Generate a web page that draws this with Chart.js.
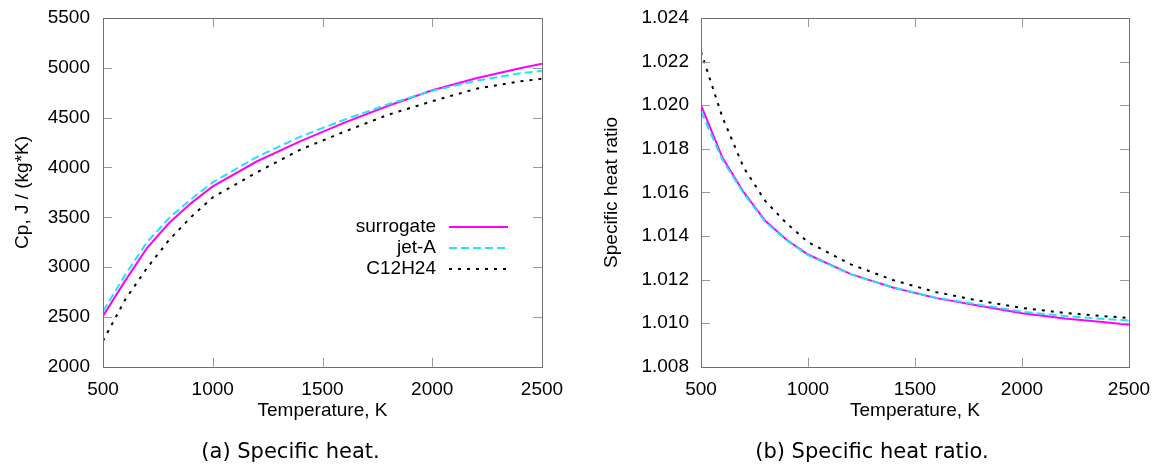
<!DOCTYPE html>
<html><head><meta charset="utf-8">
<script src="https://cdn.jsdelivr.net/npm/chart.js@4.4.1/dist/chart.umd.min.js"></script>
<style>
html,body{margin:0;padding:0;background:#fff;}
#wrap{position:relative;width:1163px;height:467px;overflow:hidden;}
.c{position:absolute;top:0;height:467px;}
</style></head><body>
<div id="wrap">
<div class="c" style="left:0;width:581px"><canvas id="cp" width="581" height="467"></canvas></div>
<div class="c" style="left:581px;width:582px"><canvas id="gam" width="582" height="467"></canvas></div>
</div>
<script>
// ---------- data ----------
const temperatures = [500, 600, 700, 800, 900, 1000, 1200, 1400, 1600, 1800, 2000, 2200, 2400, 2500];
const seriesNames = ['surrogate', 'jet-A', 'C12H24'];

const cpSurrogate = [2510, 2860, 3190, 3440, 3640, 3810, 4060, 4265, 4450, 4620, 4775, 4895, 4995, 5040];
const cpJetA      = [2557, 2920, 3250, 3490, 3680, 3850, 4105, 4310, 4480, 4635, 4770, 4870, 4945, 4970];
const cpC12H24    = [2260, 2670, 2990, 3270, 3500, 3700, 3950, 4180, 4360, 4530, 4665, 4790, 4865, 4890];

const gammaSurrogate = [1.02000, 1.01760, 1.01600, 1.01470, 1.01383, 1.01315, 1.01225, 1.01163, 1.01115, 1.01080, 1.01046, 1.01022, 1.01003, 1.00993];
const gammaJetA      = [1.01972, 1.01750, 1.01594, 1.01465, 1.01380, 1.01312, 1.01224, 1.01163, 1.01117, 1.01085, 1.01053, 1.01033, 1.01018, 1.01012];
const gammaC12H24    = [1.02245, 1.01945, 1.01713, 1.01561, 1.01458, 1.01372, 1.01270, 1.01197, 1.01142, 1.01103, 1.01070, 1.01047, 1.01031, 1.01024];

const xTicks = [500, 1000, 1500, 2000, 2500];
const cpTicks = [2000, 2500, 3000, 3500, 4000, 4500, 5000, 5500];
const gammaTicks = [1.008, 1.010, 1.012, 1.014, 1.016, 1.018, 1.020, 1.022, 1.024];

const xTitle = 'Temperature, K';
const cpTitle = 'Cp, J / (kg*K)';
const gammaTitle = 'Specific heat ratio';
const captionA = '(a) Specific heat.';
const captionB = '(b) Specific heat ratio.';

// ---------- styles ----------
const seriesStyles = [
  {color: '#ff00ff', dash: [], width: 2, order: 2},
  {color: '#1fe6f0', dash: [8, 4], width: 2, order: 1},
  {color: '#000000', dash: [3, 6], width: 2, order: 0}
];
const tickFont = {family: '"Liberation Sans", Arial, sans-serif', size: 19};
const captionFont = {family: '"DejaVu Sans", Verdana, sans-serif', size: 21, weight: 'normal'};

function makeDatasets(seriesList) {
  return seriesList.map((vals, i) => ({
    label: seriesNames[i],
    data: temperatures.map((t, j) => ({x: t, y: vals[j]})),
    borderColor: seriesStyles[i].color,
    borderDash: seriesStyles[i].dash,
    borderWidth: seriesStyles[i].width,
    order: seriesStyles[i].order,
    pointRadius: 0,
    tension: 0,
    fill: false
  }));
}

// frame with inward mirror ticks (gnuplot style)
const framePlugin = {
  id: 'gpFrame',
  afterDatasetsDraw(chart) {
    const {ctx, chartArea: a, scales} = chart;
    const len = 9;
    ctx.save();
    ctx.strokeStyle = '#9a9a9a';
    ctx.lineWidth = 1;
    ctx.beginPath();
    scales.x.ticks.forEach(t => {
      const p = Math.round(scales.x.getPixelForValue(t.value)) + 0.5;
      ctx.moveTo(p, a.bottom); ctx.lineTo(p, a.bottom - len);
      ctx.moveTo(p, a.top); ctx.lineTo(p, a.top + len);
    });
    scales.y.ticks.forEach(t => {
      const p = Math.round(scales.y.getPixelForValue(t.value)) + 0.5;
      ctx.moveTo(a.left, p); ctx.lineTo(a.left + len, p);
      ctx.moveTo(a.right, p); ctx.lineTo(a.right - len, p);
    });
    ctx.stroke();
    ctx.strokeStyle = '#707070';
    ctx.strokeRect(Math.round(a.left) + 0.5, Math.round(a.top) + 0.5,
                   Math.round(a.right - a.left), Math.round(a.bottom - a.top));
    ctx.restore();
  }
};

// gnuplot-like legend: right-aligned text, line sample on the right
const gpLegendPlugin = {
  id: 'gpLegend',
  afterDatasetsDraw(chart, args, opts) {
    if (!opts || !opts.show) return;
    const {ctx} = chart;
    ctx.save();
    ctx.font = `${tickFont.size}px ${tickFont.family}`;
    ctx.textAlign = 'right';
    ctx.textBaseline = 'middle';
    chart.data.datasets.forEach((ds, i) => {
      const y = opts.y + i * opts.rowHeight;
      ctx.fillStyle = '#000';
      ctx.fillText(ds.label, opts.textRight, y);
      ctx.beginPath();
      ctx.strokeStyle = ds.borderColor;
      ctx.lineWidth = ds.borderWidth;
      ctx.setLineDash(ds.borderDash || []);
      ctx.moveTo(opts.sampleStart, y);
      ctx.lineTo(opts.sampleEnd, y);
      ctx.stroke();
    });
    ctx.restore();
  }
};

function makeChart(canvasId, datasets, cfg) {
  return new Chart(document.getElementById(canvasId), {
    type: 'line',
    data: {datasets},
    plugins: [framePlugin, gpLegendPlugin],
    options: {
      responsive: false,
      animation: false,
      devicePixelRatio: 1,
      layout: {padding: {left: 0, right: 0, top: 18, bottom: 0}},
      scales: {
        x: {
          type: 'linear',
          min: 500, max: 2500,
          afterBuildTicks: s => { s.ticks = xTicks.map(v => ({value: v})); },
          afterFit: s => { s.height = 69; s.paddingLeft = 0; s.paddingRight = cfg.padRight; },
          ticks: {font: tickFont, color: '#000', padding: 12, maxRotation: 0,
                  callback: v => String(v)},
          grid: {display: false, drawTicks: false},
          border: {display: false},
          title: {display: true, text: xTitle, font: tickFont, color: '#000',
                  padding: {top: 0, bottom: 14}}
        },
        y: {
          type: 'linear',
          min: cfg.yMin, max: cfg.yMax,
          afterBuildTicks: s => { s.ticks = cfg.yTicks.map(v => ({value: v})); },
          afterFit: s => { s.width = cfg.yWidth; s.paddingTop = 0; s.paddingBottom = 0; },
          ticks: {font: tickFont, color: '#000', padding: cfg.yTickPad,
                  callback: cfg.yFmt},
          grid: {display: false, drawTicks: false},
          border: {display: false},
          title: {display: true, text: cfg.yTitle, font: tickFont, color: '#000',
                  padding: {top: cfg.yTitlePad, bottom: 0}}
        }
      },
      plugins: {
        legend: {display: false},
        tooltip: {enabled: false},
        title: {display: true, position: 'bottom', text: cfg.caption, font: captionFont,
                color: '#000', padding: {top: 4, bottom: 2}},
        gpLegend: cfg.legend
      }
    }
  });
}

makeChart('cp', makeDatasets([cpSurrogate, cpJetA, cpC12H24]), {
  padRight: 39, yMin: 2000, yMax: 5500, yTicks: cpTicks, yWidth: 103, yTickPad: 13,
  yFmt: v => String(v), yTitle: cpTitle, yTitlePad: 11, caption: captionA,
  legend: {show: true, textRight: 436, y: 227, rowHeight: 21, sampleStart: 449, sampleEnd: 508}
});

makeChart('gam', makeDatasets([gammaSurrogate, gammaJetA, gammaC12H24]), {
  padRight: 34, yMin: 1.008, yMax: 1.024, yTicks: gammaTicks, yWidth: 120, yTickPad: 12,
  yFmt: v => Number(v).toFixed(3), yTitle: gammaTitle, yTitlePad: 19, caption: captionB,
  legend: {show: false}
});
</script>
</body></html>
